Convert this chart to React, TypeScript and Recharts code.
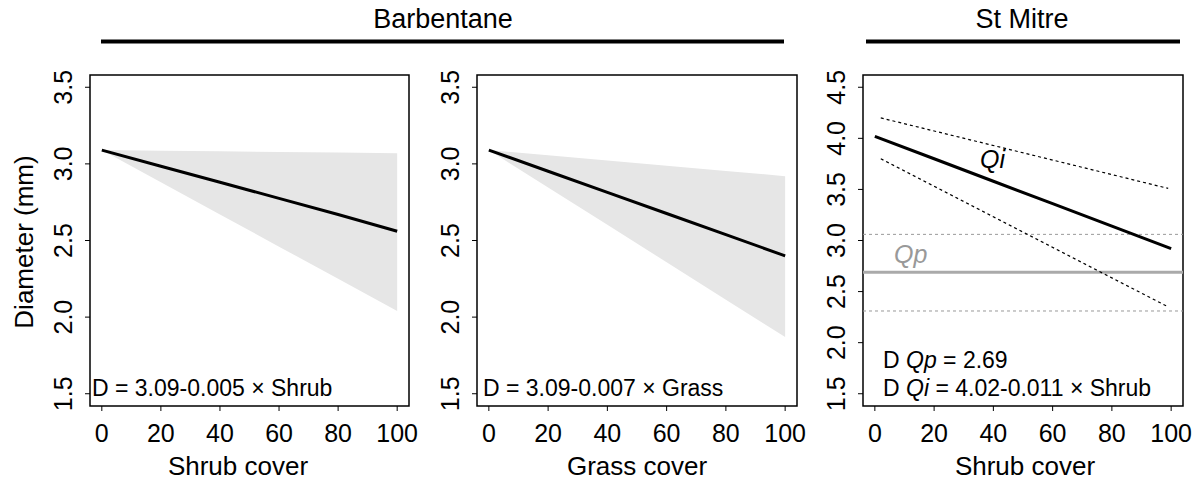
import { Area, ComposedChart, Line, ReferenceArea, ReferenceLine, XAxis, YAxis } from 'recharts';

const FONT = '"Liberation Sans", Arial, Helvetica, sans-serif';

// x values (cover %) at which the fitted lines were read
const cover = [0, 20, 40, 60, 80, 100];

// Barbentane - shrub cover
const shrubFit = [3.09, 2.985, 2.88, 2.775, 2.67, 2.56];
const shrubLow = [3.09, 2.88, 2.67, 2.46, 2.25, 2.04];
const shrubHigh = [3.09, 3.086, 3.082, 3.078, 3.074, 3.07];

// Barbentane - grass cover
const grassFit = [3.09, 2.952, 2.814, 2.676, 2.538, 2.4];
const grassLow = [3.09, 2.846, 2.602, 2.358, 2.114, 1.87];
const grassHigh = [3.09, 3.056, 3.022, 2.988, 2.954, 2.92];

// St Mitre - Qi fit and its dashed interval
const qiFit = [4.02, 3.8, 3.58, 3.36, 3.14, 2.92];
const ciCover = [2, 99];
const qiHigh = [4.2, 3.51];
const qiLow = [3.8, 2.35];

// St Mitre - Qp mean and interval
const qpMean = 2.69;
const qpLow = 2.31;
const qpHigh = 3.06;

const xTicks = [0, 20, 40, 60, 80, 100];
const yTicksB = [1.5, 2.0, 2.5, 3.0, 3.5];
const yTicksS = [1.5, 2.0, 2.5, 3.0, 3.5, 4.0, 4.5];
const xDomain: [number, number] = [-4, 104];
const yDomainB: [number, number] = [1.42, 3.58];
const yDomainS: [number, number] = [1.38, 4.62];

const fitRows = (fit: number[], low: number[], high: number[]) =>
  cover.map((x, i) => ({ x, fit: fit[i], band: [low[i], high[i]] }));

const lineRows = (xs: number[], ys: number[]) => xs.map((x, i) => ({ x, y: ys[i] }));

const shrubRows = fitRows(shrubFit, shrubLow, shrubHigh);
const grassRows = fitRows(grassFit, grassLow, grassHigh);
const qiRows = lineRows(cover, qiFit);
const qiHighRows = lineRows(ciCover, qiHigh);
const qiLowRows = lineRows(ciCover, qiLow);

const YTick = (props: any) => {
  const { x, y, payload } = props;
  const tx = x - 11;
  return (
    <text
      x={tx}
      y={y}
      transform={`rotate(-90 ${tx} ${y})`}
      textAnchor="middle"
      fontSize={25}
      fontFamily={FONT}
      fill="#000"
    >
      {Number(payload.value).toFixed(1)}
    </text>
  );
};

const Panel: React.FC<{
  left: number;
  plotW: number;
  yDomain: [number, number];
  yTicks: number[];
  children: React.ReactNode;
}> = ({ left, plotW, yDomain, yTicks, children }) => (
  <div style={{ position: 'absolute', left: left - 60, top: 0 }}>
    <ComposedChart
      width={60 + plotW + 30}
      height={481}
      margin={{ top: 75, right: 30, bottom: 0, left: 0 }}
    >
      <XAxis
        type="number"
        dataKey="x"
        domain={xDomain}
        ticks={xTicks}
        interval={0}
        allowDataOverflow
        axisLine={false}
        tickLine={{ stroke: '#000' }}
        tickSize={5}
        tickMargin={13}
        height={75}
        tick={{ fontSize: 25, fill: '#000', fontFamily: FONT }}
      />
      <YAxis
        type="number"
        domain={yDomain}
        ticks={yTicks}
        interval={0}
        allowDataOverflow
        axisLine={false}
        tickLine={{ stroke: '#000' }}
        tickSize={5}
        width={60}
        tick={<YTick />}
      />
      {children}
      <ReferenceArea
        x1={xDomain[0]}
        x2={xDomain[1]}
        y1={yDomain[0]}
        y2={yDomain[1]}
        fill="none"
        stroke="#000"
        strokeWidth={1.5}
      />
    </ComposedChart>
  </div>
);

export default function App() {
  const txt = { fontFamily: FONT, fill: '#000' };
  return (
    <div
      style={{
        position: 'absolute',
        left: 0,
        top: 0,
        width: 1200,
        height: 481,
        background: '#fff',
        overflow: 'hidden',
      }}
    >
      <Panel left={90} plotW={319} yDomain={yDomainB} yTicks={yTicksB}>
        <Area
          data={shrubRows}
          dataKey="band"
          stroke="none"
          fill="#e6e6e6"
          fillOpacity={1}
          isAnimationActive={false}
        />
        <Line
          data={shrubRows}
          dataKey="fit"
          stroke="#000"
          strokeWidth={3}
          dot={false}
          isAnimationActive={false}
        />
      </Panel>
      <Panel left={477} plotW={320} yDomain={yDomainB} yTicks={yTicksB}>
        <Area
          data={grassRows}
          dataKey="band"
          stroke="none"
          fill="#e6e6e6"
          fillOpacity={1}
          isAnimationActive={false}
        />
        <Line
          data={grassRows}
          dataKey="fit"
          stroke="#000"
          strokeWidth={3}
          dot={false}
          isAnimationActive={false}
        />
      </Panel>
      <Panel left={863} plotW={320} yDomain={yDomainS} yTicks={yTicksS}>
        <ReferenceLine y={qpHigh} stroke="#999" strokeDasharray="3 3" />
        <ReferenceLine y={qpLow} stroke="#999" strokeDasharray="3 3" />
        <ReferenceLine y={qpMean} stroke="#aaa" strokeWidth={3} />
        <Line
          data={qiHighRows}
          dataKey="y"
          stroke="#000"
          strokeWidth={1.2}
          strokeDasharray="3 3"
          dot={false}
          isAnimationActive={false}
        />
        <Line
          data={qiLowRows}
          dataKey="y"
          stroke="#000"
          strokeWidth={1.2}
          strokeDasharray="3 3"
          dot={false}
          isAnimationActive={false}
        />
        <Line
          data={qiRows}
          dataKey="y"
          stroke="#000"
          strokeWidth={3}
          dot={false}
          isAnimationActive={false}
        />
      </Panel>

      <svg
        width={1200}
        height={481}
        style={{ position: 'absolute', left: 0, top: 0, pointerEvents: 'none' }}
      >
        <text x={443} y={28} textAnchor="middle" fontSize={27} {...txt}>Barbentane</text>
        <text x={1022} y={28} textAnchor="middle" fontSize={27} {...txt}>St Mitre</text>
        <line x1={101} x2={784} y1={41.5} y2={41.5} stroke="#000" strokeWidth={4} />
        <line x1={866} x2={1180} y1={41.5} y2={41.5} stroke="#000" strokeWidth={4} />

        <text
          transform="translate(33 242) rotate(-90)"
          textAnchor="middle"
          fontSize={26}
          {...txt}
        >
          Diameter (mm)
        </text>
        <text x={238} y={475} textAnchor="middle" fontSize={26} {...txt}>Shrub cover</text>
        <text x={637} y={475} textAnchor="middle" fontSize={26} {...txt}>Grass cover</text>
        <text x={1025} y={475} textAnchor="middle" fontSize={26} {...txt}>Shrub cover</text>

        <text x={92} y={396} fontSize={23} {...txt}>D = 3.09-0.005 × Shrub</text>
        <text x={483} y={396} fontSize={23} {...txt}>D = 3.09-0.007 × Grass</text>
        <text x={883} y={368} fontSize={23} {...txt}>
          D <tspan fontStyle="italic">Qp</tspan> = 2.69
        </text>
        <text x={883} y={396} fontSize={23} {...txt}>
          D <tspan fontStyle="italic">Qi</tspan> = 4.02-0.011 × Shrub
        </text>

        <text x={980} y={168} fontSize={25} fontStyle="italic" {...txt}>Qi</text>
        <text x={894} y={263} fontSize={25} fontStyle="italic" fontFamily={FONT} fill="#999">Qp</text>
      </svg>
    </div>
  );
}
